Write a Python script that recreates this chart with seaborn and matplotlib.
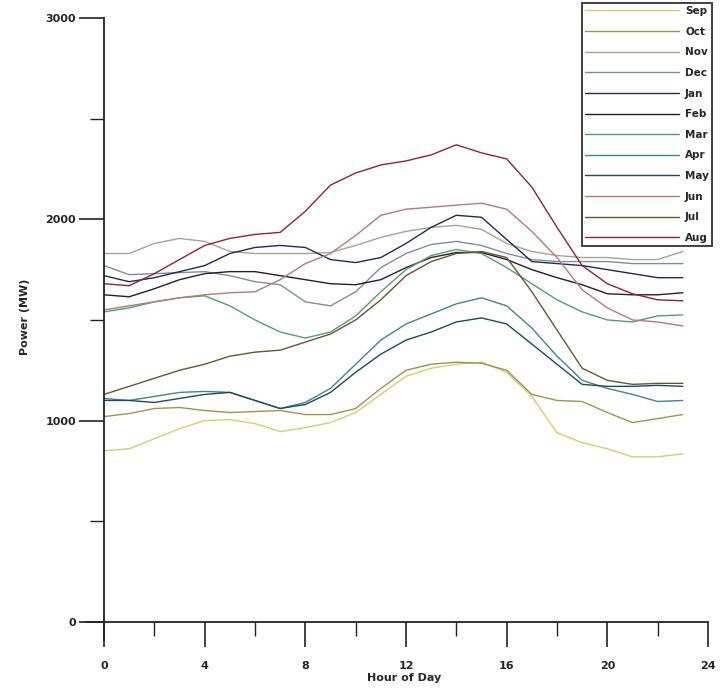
import numpy as np
import pandas as pd
import matplotlib
matplotlib.use("Agg")
import matplotlib.pyplot as plt
from matplotlib.ticker import MultipleLocator
import seaborn as sns

hours = list(range(24))
months = ["Sep", "Oct", "Nov", "Dec", "Jan", "Feb", "Mar", "Apr", "May", "Jun", "Jul", "Aug"]

sep = [850, 860, 910, 960, 1000, 1005, 985, 945, 965, 990, 1040, 1130, 1220, 1260, 1280, 1290, 1240, 1120, 940, 890, 860, 820, 820, 835]
oct_ = [1020, 1035, 1060, 1065, 1050, 1040, 1045, 1050, 1030, 1030, 1060, 1160, 1250, 1280, 1290, 1285, 1250, 1130, 1100, 1095, 1040, 990, 1010, 1030]
nov = [1830, 1830, 1880, 1905, 1890, 1840, 1830, 1830, 1830, 1835, 1870, 1910, 1940, 1960, 1970, 1950, 1880, 1840, 1820, 1810, 1810, 1800, 1800, 1840]
dec = [1770, 1725, 1730, 1735, 1740, 1720, 1690, 1675, 1590, 1570, 1640, 1760, 1830, 1875, 1890, 1870, 1830, 1800, 1790, 1790, 1790, 1780, 1780, 1780]
jan = [1720, 1690, 1710, 1740, 1770, 1830, 1860, 1870, 1860, 1800, 1785, 1810, 1880, 1960, 2020, 2010, 1900, 1790, 1780, 1770, 1750, 1730, 1710, 1710]
feb = [1625, 1615, 1655, 1700, 1730, 1740, 1740, 1720, 1700, 1680, 1675, 1700, 1760, 1810, 1835, 1835, 1800, 1750, 1710, 1675, 1630, 1625, 1625, 1635]
mar = [1540, 1560, 1590, 1610, 1620, 1570, 1500, 1440, 1410, 1440, 1520, 1640, 1750, 1820, 1850, 1830, 1760, 1680, 1600, 1540, 1500, 1490, 1520, 1525]
apr = [1110, 1100, 1120, 1140, 1145, 1140, 1100, 1060, 1090, 1160, 1280, 1400, 1480, 1530, 1580, 1610, 1570, 1460, 1320, 1200, 1160, 1130, 1095, 1100]
may = [1100, 1100, 1090, 1110, 1130, 1140, 1100, 1060, 1080, 1140, 1240, 1330, 1400, 1440, 1490, 1510, 1480, 1380, 1280, 1180, 1170, 1170, 1175, 1170]
jun = [1550, 1570, 1590, 1610, 1625, 1635, 1640, 1700, 1780, 1830, 1920, 2020, 2050, 2060, 2070, 2080, 2050, 1940, 1810, 1650, 1560, 1500, 1490, 1470]
jul = [1130, 1170, 1210, 1250, 1280, 1320, 1340, 1350, 1390, 1430, 1500, 1600, 1720, 1790, 1830, 1840, 1810, 1640, 1450, 1260, 1200, 1180, 1185, 1185]
aug = [1680, 1670, 1730, 1800, 1870, 1905, 1925, 1935, 2040, 2170, 2230, 2270, 2290, 2320, 2370, 2330, 2300, 2160, 1960, 1770, 1680, 1630, 1600, 1595]

series = [sep, oct_, nov, dec, jan, feb, mar, apr, may, jun, jul, aug]
colors = ["#d8cc70", "#a0944c", "#a3a592", "#7d8d9e", "#1e2c55", "#2a1a2e",
          "#4fa06e", "#3f8590", "#1c4c5a", "#b87878", "#6a5530", "#8c2535"]

df = pd.DataFrame({
    "Hour": np.tile(hours, len(months)),
    "Power": np.concatenate(series),
    "Month": np.repeat(months, len(hours)),
})

sns.set_style("ticks")
plt.rcParams["font.family"] = ["DejaVu Sans"]

fig = plt.figure(figsize=(7.22, 6.92), dpi=100)
ax = fig.add_axes([86.4 / 722, 1 - 640 / 692, (708 - 86.4) / 722, (640 - 18) / 692])

sns.lineplot(data=df, x="Hour", y="Power", hue="Month", hue_order=months,
             palette=dict(zip(months, colors)), linewidth=1.0, ax=ax, legend=True)

ax.set_xlim(-0.7, 24)
ax.set_ylim(-90, 3000)
ax.spines["left"].set_position(("data", 0))
ax.spines["bottom"].set_position(("data", 0))
ax.spines["right"].set_visible(False)
ax.spines["top"].set_visible(False)
for s in ("left", "bottom"):
    ax.spines[s].set_linewidth(1.3)
    ax.spines[s].set_color("#222222")

ax.xaxis.set_major_locator(MultipleLocator(4))
ax.xaxis.set_minor_locator(MultipleLocator(2))
ax.yaxis.set_major_locator(MultipleLocator(1000))
ax.yaxis.set_minor_locator(MultipleLocator(500))
ax.tick_params(which="major", length=18, width=1.2, color="#222222", labelsize=8)
ax.tick_params(which="minor", length=10, width=1.0, color="#222222")
ax.tick_params(axis="x", which="major", pad=10)
ax.tick_params(axis="y", which="major", pad=2)
for lab in ax.get_xticklabels() + ax.get_yticklabels():
    lab.set_fontweight("bold")

ax.set_xlabel("Hour of Day", fontsize=8, fontweight="bold")
ax.set_ylabel("Power (MW)", fontsize=8, fontweight="bold")
ax.xaxis.set_label_coords((404 - 86.4) / 621.6, -(673 - 640) / 622)
ax.yaxis.set_label_coords(-(86.4 - 30) / 621.6, 0.52)

handles, labels = ax.get_legend_handles_labels()
leg = ax.legend(handles, labels, loc="upper right",
                bbox_to_anchor=(712 / 722, 1 - 3 / 692), bbox_transform=fig.transFigure,
                frameon=True, fancybox=False, edgecolor="#111111",
                handlelength=9.0, handletextpad=0.6, labelspacing=1.02,
                borderpad=0.3, borderaxespad=0, prop={"size": 7.5, "weight": "bold"})
leg.get_frame().set_linewidth(1.4)
for line in leg.get_lines():
    line.set_linewidth(1.0)

fig.savefig("out.png", dpi=100)
